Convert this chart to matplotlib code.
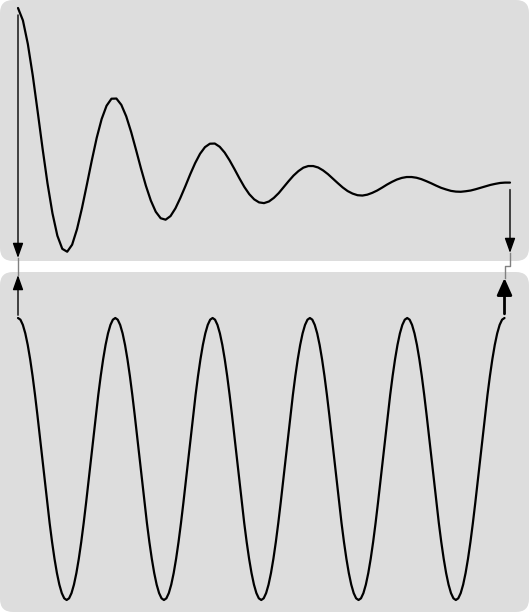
import matplotlib
matplotlib.use("Agg")
import matplotlib.pyplot as plt
from matplotlib.patches import FancyBboxPatch
from matplotlib.lines import Line2D

# sample times (step 0.05) and the damped trace
t = [round(0.05 * i, 2) for i in range(101)]

damped = [1.000, 0.931, 0.800, 0.625, 0.424, 0.218, 0.025, -0.140, -0.265, -0.338,
          -0.354, -0.315, -0.228, -0.112, 0.019, 0.153, 0.279, 0.383, 0.457, 0.496,
          0.497, 0.462, 0.398, 0.311, 0.211, 0.108, 0.012, -0.070, -0.132, -0.168,
          -0.176, -0.156, -0.113, -0.055, 0.009, 0.076, 0.138, 0.190, 0.227, 0.246,
          0.247, 0.229, 0.197, 0.154, 0.105, 0.054, 0.006, -0.034, -0.063, -0.080,
          -0.084, -0.075, -0.055, -0.028, 0.005, 0.038, 0.069, 0.094, 0.113, 0.122,
          0.122, 0.114, 0.098, 0.077, 0.052, 0.027, 0.003, -0.017, -0.031, -0.040,
          -0.042, -0.037, -0.027, -0.014, 0.002, 0.019, 0.034, 0.047, 0.056, 0.061,
          0.061, 0.057, 0.049, 0.038, 0.026, 0.013, 0.001, -0.008, -0.016, -0.020,
          -0.021, -0.018, -0.014, -0.007, 0.001, 0.009, 0.017, 0.023, 0.028, 0.030,
          0.030]

# lower trace: one period sampled every 0.025, repeated five times
t2 = [round(0.025 * i, 3) for i in range(201)]
one_period = [1.000, 0.988, 0.951, 0.891, 0.809, 0.707, 0.588, 0.454, 0.309, 0.156,
              0.000, -0.156, -0.309, -0.454, -0.588, -0.707, -0.809, -0.891, -0.951, -0.988,
              -1.000, -0.988, -0.951, -0.891, -0.809, -0.707, -0.588, -0.454, -0.309, -0.156,
              0.000, 0.156, 0.309, 0.454, 0.588, 0.707, 0.809, 0.891, 0.951, 0.988]
wave = one_period * 5 + [1.000]

W, H = 530, 613
fig = plt.figure(figsize=(W / 100, H / 100), dpi=100)


def fx(px):
    return px / W


def fy(px):
    # pixel rows counted from the top
    return 1 - px / H


# rounded grey panels, in inches so the corners stay circular
panel = dict(boxstyle="round,pad=0,rounding_size=0.13", fc="#dddddd", ec="none",
             transform=fig.dpi_scale_trans, zorder=-5)
fig.patches.append(FancyBboxPatch((0.0, (H - 261) / 100), 5.29, 2.61, **panel))
fig.patches.append(FancyBboxPatch((0.0, (H - 612) / 100), 5.29, 3.40, **panel))

line_kw = dict(color="black", lw=1.6, clip_on=False,
               solid_joinstyle="round", solid_capstyle="round")

ax1 = fig.add_axes([fx(18), fy(260), fx(510 - 18), (260 - 8) / H])
ax1.plot(t, damped, **line_kw)
ax1.set_xlim(0, 5)
ax1.set_ylim(-0.4, 1.0)
ax1.axis("off")

ax2 = fig.add_axes([fx(18), fy(600), fx(504.5 - 18), (600 - 318) / H])
ax2.plot(t2, wave, **line_kw)
ax2.set_xlim(0, 5)
ax2.set_ylim(-1, 1)
ax2.axis("off")

head = "-|>,head_length=0.9,head_width=0.32"
mixed = ("data", "figure fraction")

# left side: top trace start -> gap <- bottom trace start
ax1.annotate("", xy=(t[0], fy(258)), xycoords=mixed,
             xytext=(t[0], damped[0]), textcoords="data",
             arrowprops=dict(arrowstyle=head, color="black", lw=1.0,
                             shrinkA=5, shrinkB=0))
ax2.annotate("", xy=(t2[0], fy(275)), xycoords=mixed,
             xytext=(t2[0], wave[0]), textcoords="data",
             arrowprops=dict(arrowstyle=head, color="black", lw=1.0,
                             shrinkA=2, shrinkB=0))
x_left = ax1.transData.transform((t[0], 0))[0] / W
fig.add_artist(Line2D([x_left, x_left], [fy(258), fy(275)], color="#808080", lw=1.0))

# right side: top trace end -> gap, step, <- bottom trace end (heavier)
ax1.annotate("", xy=(t[-1], fy(253)), xycoords=mixed,
             xytext=(t[-1], damped[-1]), textcoords="data",
             arrowprops=dict(arrowstyle=head, color="black", lw=1.0,
                             shrinkA=5, shrinkB=0))
ax2.annotate("", xy=(t2[-1], fy(278)), xycoords=mixed,
             xytext=(t2[-1], wave[-1]), textcoords="data",
             arrowprops=dict(arrowstyle="-|>,head_length=0.85,head_width=0.38",
                             color="black", lw=2.0, shrinkA=3, shrinkB=0,
                             mutation_scale=12))
x_r1 = ax1.transData.transform((t[-1], 0))[0] / W
x_r2 = ax2.transData.transform((t2[-1], 0))[0] / W
fig.add_artist(Line2D([x_r1, x_r1, x_r2, x_r2],
                      [fy(253), fy(266), fy(266), fy(278)],
                      color="#808080", lw=1.0))

fig.savefig("out.png", dpi=100, facecolor="white")
